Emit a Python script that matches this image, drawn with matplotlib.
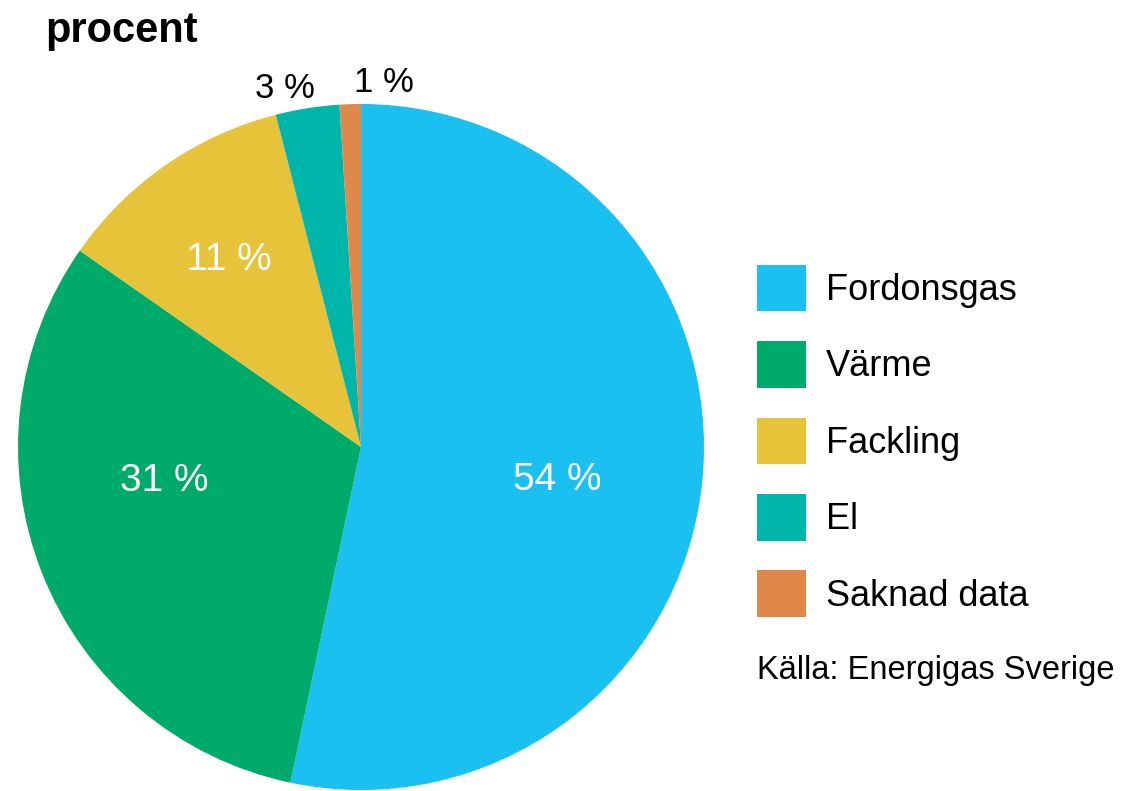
import matplotlib.pyplot as plt

# andel per användning, procent
kategorier = ["Fordonsgas", "Värme", "Fackling", "El", "Saknad data"]
andel = [53.3, 31.4, 11.3, 3.0, 1.0]
etiketter = ["54 %", "31 %", "11 %", "3 %", "1 %"]
farger = ["#1AC0EF", "#00AA6A", "#E6C339", "#00B6AA", "#E0884A"]

W, H = 1124, 791
fig = plt.figure(figsize=(W / 100, H / 100), dpi=100)
ax = fig.add_axes([0, 0, 1, 1])

font = "Liberation Sans"

wedges, _ = ax.pie(andel, colors=farger, startangle=90, counterclock=False,
                   center=(361, H - 447), radius=343,
                   wedgeprops=dict(linewidth=0), frame=True)
ax.set_xlim(0, W)
ax.set_ylim(0, H)
ax.set_aspect("equal")
ax.axis("off")

# procentetiketter
pos = [(557, 480), (164, 481), (229, 260), (285, 88), (384, 82)]
textfarg = ["white", "white", "white", "black", "black"]
storlek = [28, 28, 28, 25, 25]
for lab, (px, py), c, s in zip(etiketter, pos, textfarg, storlek):
    ax.text(px, H - py, lab, color=c, fontsize=s,
            family=font, ha="center", va="center")

leg = ax.legend(wedges, kategorier, loc="upper left",
                bbox_to_anchor=(757 / W, 1 - 265 / H),
                bbox_transform=fig.transFigure, frameon=False,
                prop=dict(family=font, size=26), borderpad=0,
                borderaxespad=0, handlelength=1.36, handleheight=1.6,
                handletextpad=0.55, labelspacing=0.83)

fig.text(757 / W, 1 - 670 / H, "Källa: Energigas Sverige", fontsize=23.5,
         family=font, ha="left", va="center")
fig.text(45 / W, 1 - 42 / H, "procent", fontsize=30, family=font,
         fontweight="bold", ha="left", va="baseline")

plt.savefig("out.png", dpi=100)
